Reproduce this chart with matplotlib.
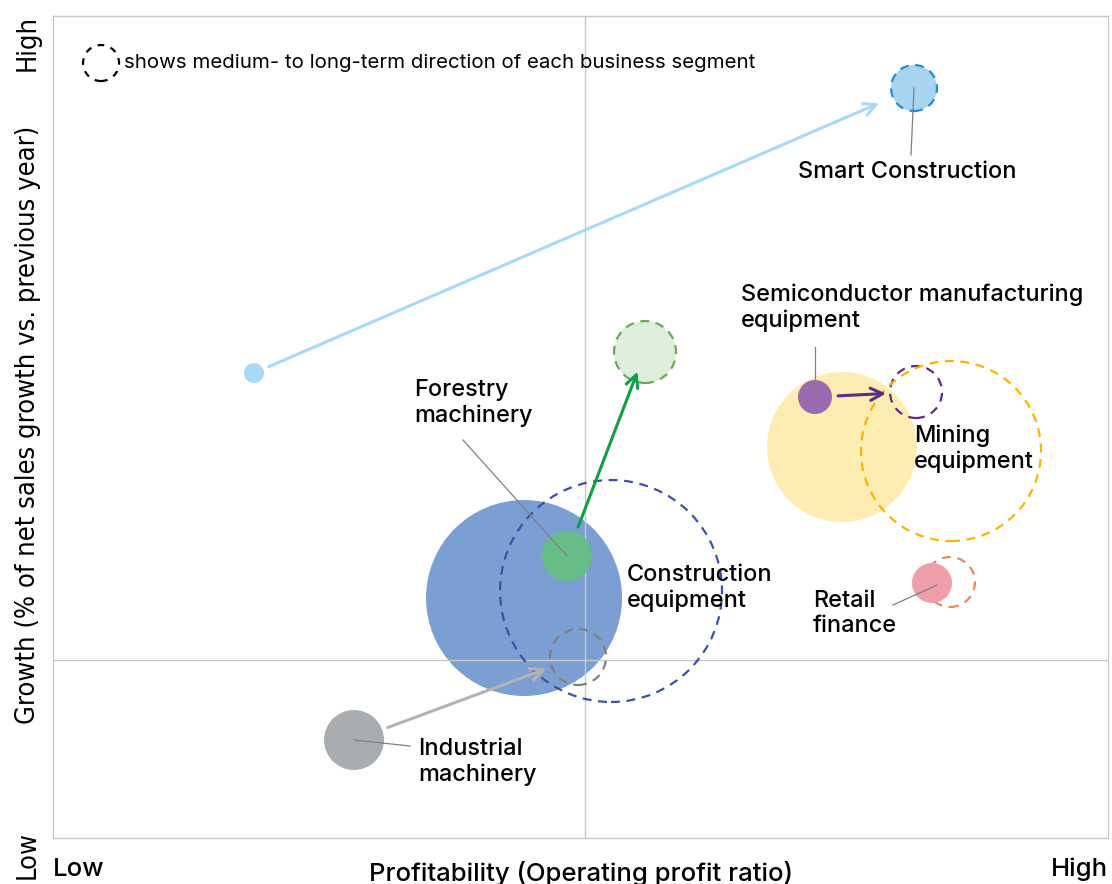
import matplotlib.pyplot as plt
from matplotlib.patches import Circle

# business segments (positions on an arbitrary profitability / growth scale)
segments = ['Construction equipment', 'Forestry machinery', 'Industrial machinery',
            'Smart Construction', 'Semiconductor manufacturing equipment',
            'Mining equipment', 'Retail finance']
now_x = [47.1, 51.4, 30.1, 20.1, 76.2, 78.9, 87.9]
now_y = [24.0, 28.2, 9.8, 46.5, 44.1, 39.1, 25.5]
now_r = [9.8, 2.5, 3.0, 1.0, 1.7, 7.5, 2.0]
fut_x = [55.8, 59.2, 52.5, 86.1, 86.3, 89.8, 89.7]
fut_y = [24.7, 48.6, 18.1, 75.0, 44.6, 38.7, 25.6]
fut_r = [11.1, 3.1, 2.8, 2.3, 2.6, 9.0, 2.5]
has_arrow = [False, True, True, True, True, False, False]

fill_col = ['#7b9fd3', '#66bd86', '#aaadb0', '#a8d9f5', '#9b69ad', '#feedb3', '#ef9faa']
fut_fill = ['none', '#ddeedd', 'none', '#a8d4f2', 'none', 'none', 'none']
edge_col = ['#3f51a5', '#6fa85a', '#7f7f7f', '#1d8fd5', '#5c2d86', '#f4b700', '#e6895d']
arrow_col = [None, '#0fa045', '#b3b3b3', '#a8d9f5', '#5c2d86', None, None]
arrow_gap = [0, -1.0, 0.6, 1.5, 0.4, 0, 0]

mid_x, mid_y = 53.2, 17.8

plt.rcParams['font.family'] = ['Inter', 'DejaVu Sans']
fig = plt.figure(figsize=(11.12, 8.84), dpi=100)
ax = fig.add_axes([0.0477, 0.052, 0.9487, 0.9299])
ax.set_xlim(0, 105.5)
ax.set_ylim(0, 82.2)
ax.set_aspect('equal')
ax.set_xticks([])
ax.set_yticks([])
for s in ax.spines.values():
    s.set_color('#c8c8c8')
    s.set_linewidth(1)

ax.axvline(mid_x, color='#c8c8c8', lw=1, zorder=1.5)
ax.axhline(mid_y, color='#c8c8c8', lw=1, zorder=1.5)

for i in range(len(segments)):
    big = now_r[i] > 5
    ax.add_patch(Circle((now_x[i], now_y[i]), now_r[i], facecolor=fill_col[i],
                        edgecolor='none', zorder=1 if big else 3))
    ax.add_patch(Circle((fut_x[i], fut_y[i]), fut_r[i], facecolor=fut_fill[i],
                        edgecolor=edge_col[i], lw=1.6, ls=(0, (4, 3)), zorder=2.5))
    if has_arrow[i]:
        px = 10 * 0.72  # data unit -> points
        ax.annotate('', xy=(fut_x[i], fut_y[i]), xytext=(now_x[i], now_y[i]),
                    arrowprops=dict(arrowstyle='->', color=arrow_col[i], lw=2.2,
                                    mutation_scale=22,
                                    shrinkA=(now_r[i] + 0.6) * px,
                                    shrinkB=(fut_r[i] + arrow_gap[i]) * px),
                    zorder=4)

# leader lines and labels
lead = dict(color='#808080', lw=0.9, zorder=5)
ax.plot([fut_x[3], 85.8], [fut_y[3], 68.3], **lead)
ax.plot([now_x[4], 76.2], [now_y[4], 49.1], **lead)
ax.plot([now_x[1], 41.0], [now_y[1], 39.8], **lead)
ax.plot([now_x[2], 35.7], [now_y[2], 9.2], **lead)
ax.plot([88.4, 84.0], [25.3, 23.3], **lead)

lab = dict(fontsize=16.9, fontweight='medium', va='center', zorder=6)
ax.text(74.5, 66.6, 'Smart Construction', **lab)
ax.text(68.8, 53.05, 'Semiconductor manufacturing\nequipment', **lab)
ax.text(36.1, 43.55, 'Forestry\nmachinery', **lab)
ax.text(57.4, 25.05, 'Construction\nequipment', **lab)
ax.text(86.1, 38.9, 'Mining\nequipment', **lab)
ax.text(76.0, 22.45, 'Retail\nfinance', **lab)
ax.text(36.5, 7.65, 'Industrial\nmachinery', **lab)

# legend note
ax.add_patch(Circle((4.8, 77.5), 1.8, facecolor='none', edgecolor='black',
                    lw=1.6, ls=(0, (3, 3)), zorder=6))
ax.text(7.1, 77.5, 'shows medium- to long-term direction of each business segment',
        fontsize=14.7, va='center', zorder=6)

# axis descriptions
ax_fs = 18.5
fig.text(53 / 1112, 1 - 869 / 884, 'Low', fontsize=ax_fs, fontweight='medium',
         va='center', ha='left')
fig.text(1108 / 1112, 1 - 869 / 884, 'High', fontsize=ax_fs, fontweight='medium',
         va='center', ha='right')
fig.text(581 / 1112, 1 - 873 / 884, 'Profitability (Operating profit ratio)',
         fontsize=ax_fs, fontweight='medium', va='center', ha='center')
narrow = ['Liberation Sans Narrow', 'DejaVu Sans Condensed', 'DejaVu Sans']
fig.text(28 / 1112, 1 - 43 / 884, 'High', fontsize=19.5, rotation=90,
         va='center', ha='center', family=narrow, fontstretch='condensed')
fig.text(28 / 1112, 1 - 855 / 884, 'Low', fontsize=19.5, rotation=90,
         va='center', ha='center', family=narrow, fontstretch='condensed')
fig.text(28 / 1112, 1 - 425 / 884, 'Growth (% of net sales growth vs. previous year)',
         fontsize=19.5, rotation=90, va='center', ha='center', family=narrow,
         fontstretch='condensed')

plt.savefig('out.png', dpi=100)
